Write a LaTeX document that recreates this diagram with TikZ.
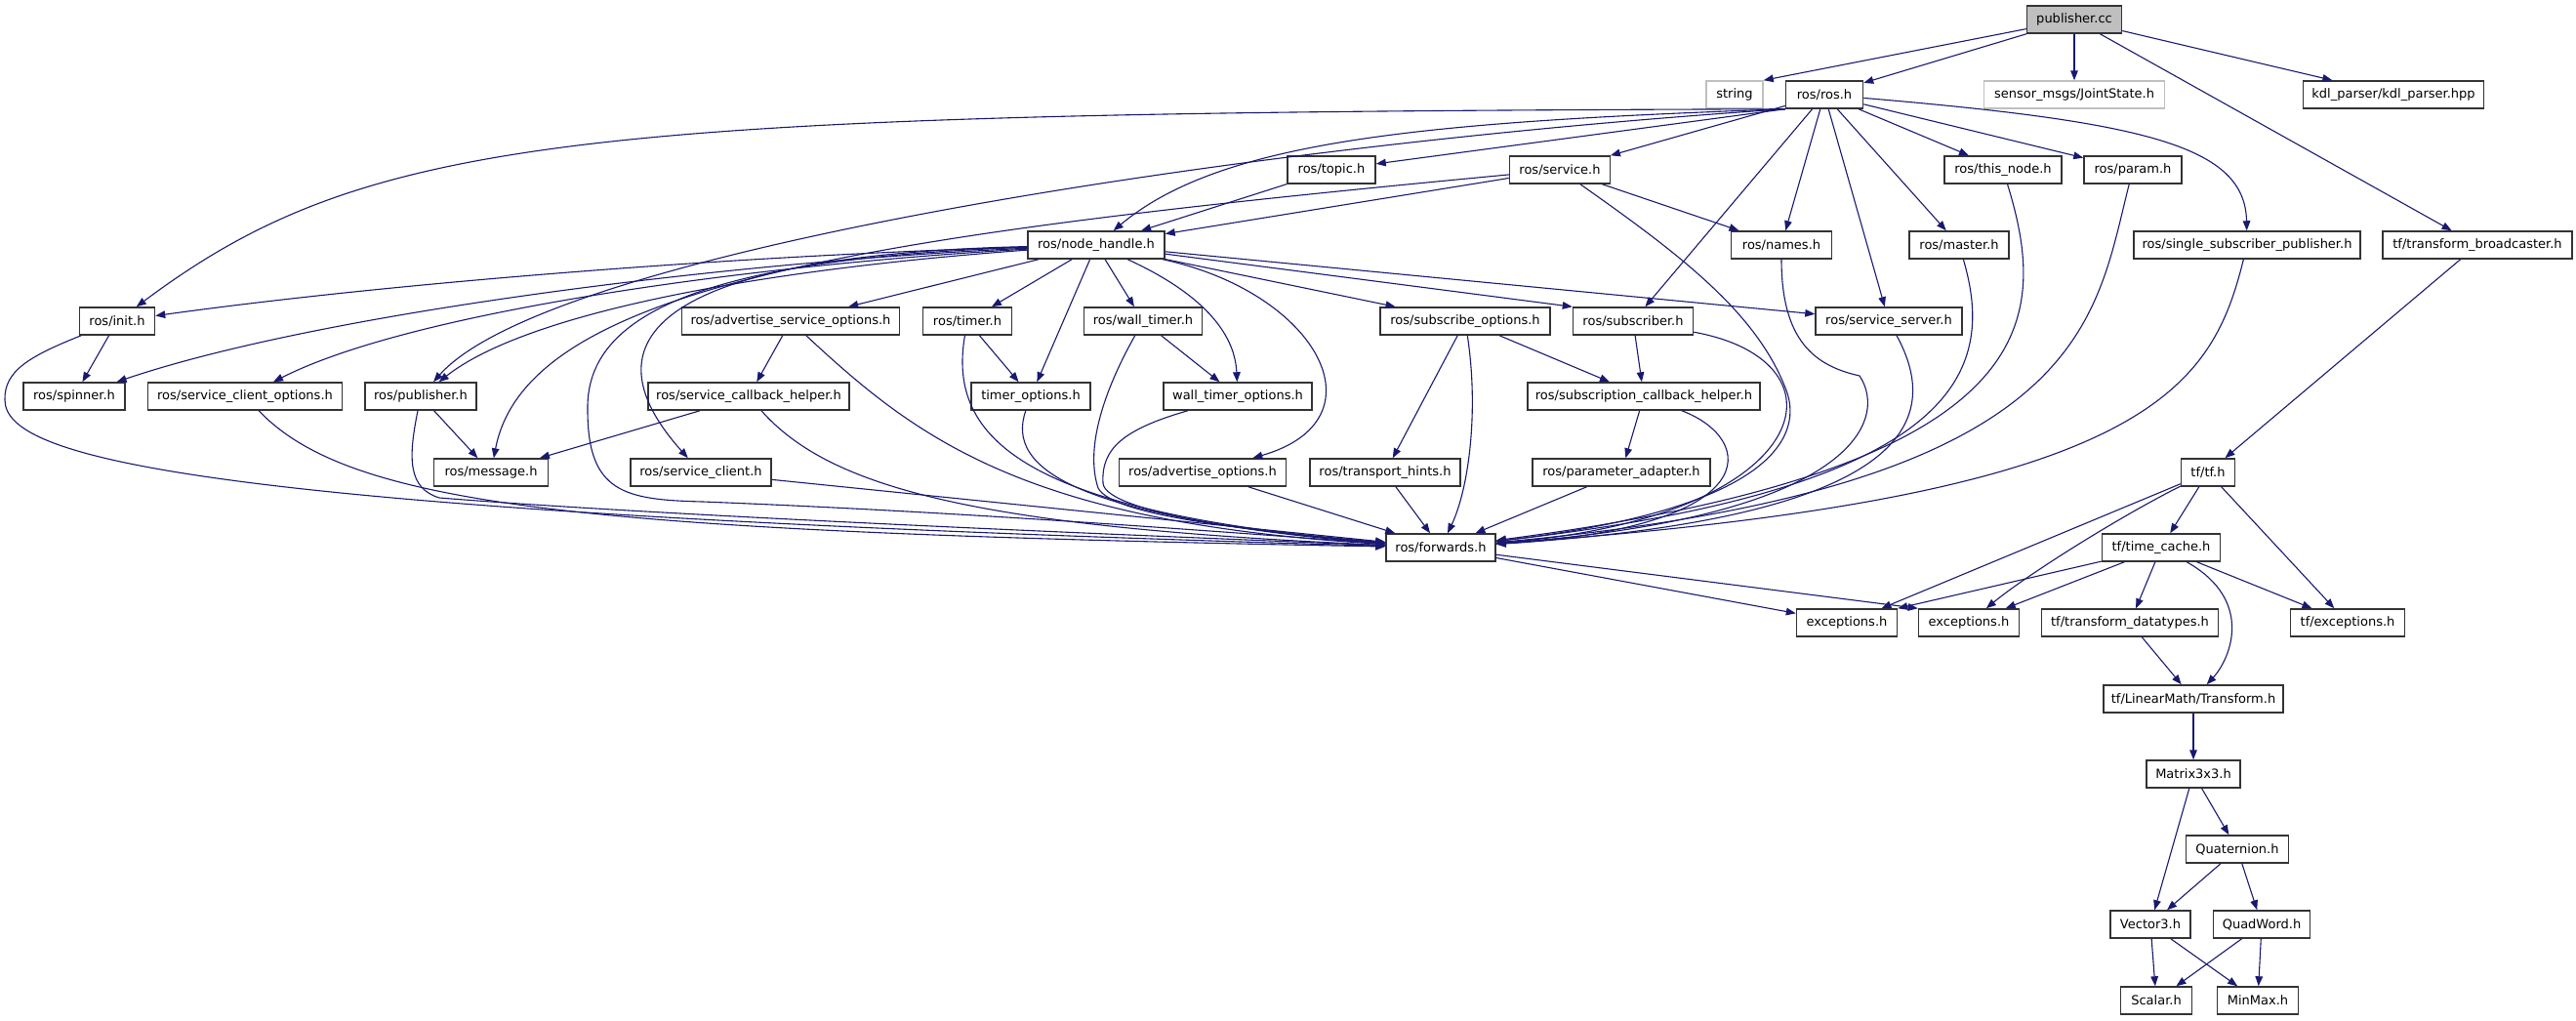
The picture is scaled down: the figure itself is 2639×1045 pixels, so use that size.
\documentclass[tikz,border=0pt]{standalone}
\usepackage{fontspec}
\setmainfont{DejaVu Sans}
\usetikzlibrary{arrows.meta}
\definecolor{DoxEdge}{HTML}{191970}
\definecolor{DoxGray}{HTML}{BFBFBF}
\begin{document}
\begin{tikzpicture}[x=0.5pt,y=-0.5pt,font=\fontsize{6.5}{7.8}\selectfont]
\tikzset{hdr/.style={draw=black!80,line width=0.75pt,fill=white,minimum height=14pt,inner sep=1.5pt},
         wd/.style={minimum width=#1*0.5pt},
         ext/.style={hdr,draw=DoxGray},
         arr/.style={-{Triangle[length=5pt,width=3.8pt]},draw=DoxEdge,line width=0.55pt}}
\useasboundingbox (0,0) rectangle (2639,1045);
% top ranks
\node[hdr,wd=97,fill=DoxGray] (pub) at (2125,20) {publisher.cc};
\node[ext,wd=58] (str) at (1777,97) {string};
\node[hdr,wd=79] (ros) at (1869,97) {ros/ros.h};
\node[ext,wd=185] (jst) at (2125,97) {sensor\_msgs/JointState.h};
\node[hdr,wd=185] (kdl) at (2452,97) {kdl\_parser/kdl\_parser.hpp};
\node[hdr,wd=90] (topic) at (1364,174) {ros/topic.h};
\node[hdr,wd=103] (service) at (1598,174) {ros/service.h};
\node[hdr,wd=120] (thisnode) at (2052,174) {ros/this\_node.h};
\node[hdr,wd=100] (param) at (2185,174) {ros/param.h};
\node[hdr,wd=140] (nh) at (1123,251) {ros/node\_handle.h};
\node[hdr,wd=103] (names) at (1825,251) {ros/names.h};
\node[hdr,wd=102] (master) at (2007,251) {ros/master.h};
\node[hdr,wd=232] (ssp) at (2302,251) {ros/single\_subscriber\_publisher.h};
\node[hdr,wd=194] (tfb) at (2538,251) {tf/transform\_broadcaster.h};
% roscpp headers
\node[hdr,wd=77] (init) at (120,329) {ros/init.h};
\node[hdr,wd=223] (aso) at (810,329) {ros/advertise\_service\_options.h};
\node[hdr,wd=91] (timer) at (991,329) {ros/timer.h};
\node[hdr,wd=121] (wtimer) at (1171,329) {ros/wall\_timer.h};
\node[hdr,wd=174] (subopt) at (1501,329) {ros/subscribe\_options.h};
\node[hdr,wd=123] (sub) at (1673,329) {ros/subscriber.h};
\node[hdr,wd=150] (ssrv) at (1935,329) {ros/service\_server.h};
\node[hdr,wd=104] (spin) at (76,406) {ros/spinner.h};
\node[hdr,wd=199] (sco) at (251,406) {ros/service\_client\_options.h};
\node[hdr,wd=114] (publ) at (431,406) {ros/publisher.h};
\node[hdr,wd=206] (sch) at (767,406) {ros/service\_callback\_helper.h};
\node[hdr,wd=122] (tmo) at (1056,406) {timer\_options.h};
\node[hdr,wd=152] (wtmo) at (1268,406) {wall\_timer\_options.h};
\node[hdr,wd=238] (subcb) at (1684,406) {ros/subscription\_callback\_helper.h};
\node[hdr,wd=117] (msg) at (503,484) {ros/message.h};
\node[hdr,wd=144] (sclient) at (718,484) {ros/service\_client.h};
\node[hdr,wd=171] (advo) at (1232,484) {ros/advertise\_options.h};
\node[hdr,wd=154] (th) at (1419,484) {ros/transport\_hints.h};
\node[hdr,wd=182] (pa) at (1661,484) {ros/parameter\_adapter.h};
\node[hdr,wd=112] (fwd) at (1476,561) {ros/forwards.h};
% tf headers
\node[hdr,wd=55] (tf) at (2262,484) {tf/tf.h};
\node[hdr,wd=121] (tc) at (2214,561) {tf/time\_cache.h};
\node[hdr,wd=103] (exa) at (1892,638) {exceptions.h};
\node[hdr,wd=103] (exb) at (2017,638) {exceptions.h};
\node[hdr,wd=181] (tdt) at (2182,638) {tf/transform\_datatypes.h};
\node[hdr,wd=117] (tfex) at (2405,638) {tf/exceptions.h};
\node[hdr,wd=184] (trf) at (2247,716) {tf/LinearMath/Transform.h};
\node[hdr,wd=96] (mat) at (2247,793) {Matrix3x3.h};
\node[hdr,wd=105] (quat) at (2292,870) {Quaternion.h};
\node[hdr,wd=82] (vec) at (2203,947) {Vector3.h};
\node[hdr,wd=99] (qw) at (2317,947) {QuadWord.h};
\node[hdr,wd=73] (scal) at (2209,1025) {Scalar.h};
\node[hdr,wd=83] (mm) at (2313,1025) {MinMax.h};
% straight includes
\foreach \a/\b in {pub/ros,pub/jst,pub/kdl,pub/tfb,ros/service,ros/sub,ros/ssrv,ros/names,ros/master,ros/thisnode,ros/param,
  topic/nh,service/nh,service/names,nh/aso,nh/timer,nh/tmo,nh/wtimer,nh/subopt,nh/ssrv,
  init/spin,publ/msg,aso/sch,sch/msg,sclient/fwd,timer/tmo,wtimer/wtmo,advo/fwd,
  subopt/th,subopt/subcb,th/fwd,sub/subcb,subcb/pa,pa/fwd,fwd/exa,
  tfb/tf,tf/exa,tf/tc,tf/tfex,tc/exb,tc/tdt,tc/tfex,tdt/trf,trf/mat,mat/vec,mat/quat,quat/vec,quat/qw,vec/scal,vec/mm,qw/scal,qw/mm}
  \draw[arr] (\a)--(\b);
\draw[arr] (pub)--(str.north east); \draw[arr] (ros.south west)--(topic); \draw[arr] (nh)--(sub.north west);
\draw[arr] (fwd)--(exb.north west); \draw[arr] (tc)--(exa.north east);
% curved includes from ros.h and service.h
\draw[arr] (ros.south west) .. controls (600,115) and (380,135) .. (init);
\draw[arr] (ros.south west) .. controls (1250,150) and (560,260) .. (publ);
\draw[arr] (ros.south west) .. controls (1450,125) and (1250,145) .. (nh);
\draw[arr] (ros) .. controls (2200,125) and (2300,150) .. (ssp);
\draw[arr] (service) .. controls (900,240) and (540,290) .. (msg);
% curved includes from node_handle.h
\draw[arr] (nh) .. controls (750,262) and (400,290) .. (init);
\draw[arr] (nh) .. controls (750,268) and (330,320) .. (spin);
\draw[arr] (nh) .. controls (760,272) and (420,320) .. (sco);
\draw[arr] (nh) .. controls (780,276) and (540,320) .. (publ);
\draw[arr] (nh) .. controls (720,260) and (580,330) .. (sclient);
\draw[arr] (nh) .. controls (1230,300) and (1265,340) .. (wtmo);
\draw[arr] (nh) .. controls (1350,300) and (1420,430) .. (advo);
\draw[arr] (nh) .. controls (700,265) and (600,330) .. (602,420) .. controls (602,505) and (640,512) .. (720,514) .. controls (1000,525) and (1250,545) .. (fwd);
% curved includes into forwards.h
\draw[arr] (init) .. controls (30,365) and (4,380) .. (5,410) .. controls (6,470) and (200,525) .. (fwd);
\draw[arr] (sco) .. controls (360,520) and (600,545) .. (fwd);
\draw[arr] (publ) .. controls (418,470) and (418,500) .. (450,510) .. controls (700,530) and (1200,550) .. (fwd);
\draw[arr] (aso) .. controls (940,450) and (1050,535) .. (fwd);
\draw[arr] (sch) .. controls (850,500) and (1000,540) .. (fwd);
\draw[arr] (timer) .. controls (970,450) and (1050,525) .. (fwd);
\draw[arr] (tmo) .. controls (1030,480) and (1100,530) .. (fwd);
\draw[arr] (wtimer) .. controls (1120,420) and (1115,470) .. (1125,500) .. controls (1140,530) and (1300,545) .. (fwd);
\draw[arr] (wtmo) .. controls (1150,440) and (1128,460) .. (1130,495) .. controls (1132,525) and (1300,548) .. (fwd);
\draw[arr] (subopt) .. controls (1515,420) and (1505,500) .. (fwd);
\draw[arr] (sub) .. controls (1900,370) and (1860,530) .. (fwd);
\draw[arr] (subcb) .. controls (1800,450) and (1810,540) .. (fwd);
\draw[arr] (ssrv) .. controls (1990,430) and (1960,530) .. (fwd);
\draw[arr] (names) .. controls (1825,350) and (1860,375) .. (1905,385) .. controls (1935,430) and (1900,530) .. (fwd);
\draw[arr] (service) .. controls (1720,260) and (1800,320) .. (1830,400) .. controls (1845,440) and (1830,520) .. (fwd);
\draw[arr] (master) .. controls (2045,380) and (2010,500) .. (fwd);
\draw[arr] (thisnode) .. controls (2100,330) and (2095,480) .. (fwd);
\draw[arr] (param) .. controls (2145,330) and (2140,500) .. (fwd);
\draw[arr] (ssp) .. controls (2265,400) and (2200,510) .. (fwd);
% curved tf includes
\draw[arr] (tf) .. controls (2170,530) and (2075,590) .. (exb);
\draw[arr] (tc) .. controls (2310,615) and (2285,675) .. (trf);
\end{tikzpicture}
\end{document}
